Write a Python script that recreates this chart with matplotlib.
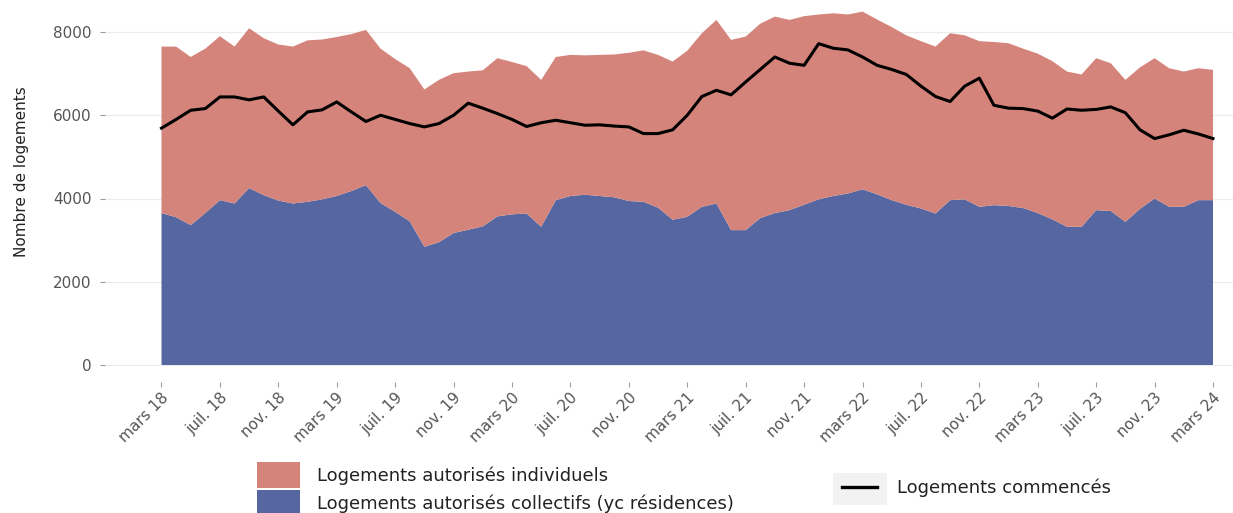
import matplotlib
matplotlib.use("Agg")
import matplotlib.pyplot as plt
from matplotlib.patches import Patch, Rectangle
from matplotlib.lines import Line2D
import matplotlib.transforms as mtransforms
import numpy as np

plt.rcParams['font.family'] = ['DejaVu Sans']

# Monthly series, mars 2018 -> mars 2024 (73 months)
collectifs = [3650, 3550, 3360, 3650, 3960, 3880, 4250, 4080, 3950, 3880,
              3920, 3980, 4060, 4180, 4320, 3890, 3680, 3450, 2840, 2950,
              3170, 3250, 3330, 3570, 3620, 3640, 3320, 3960, 4060, 4090,
              4060, 4030, 3940, 3920, 3780, 3490, 3560, 3800, 3880, 3240,
              3240, 3530, 3650, 3720, 3850, 3980, 4060, 4120, 4220, 4100,
              3960, 3850, 3760, 3640, 3960, 3980, 3800, 3840, 3820, 3770,
              3650, 3500, 3320, 3320, 3720, 3700, 3440, 3750, 4000, 3800,
              3800, 3960, 3960]
individuels = [4000, 4100, 4040, 3950, 3940, 3770, 3840, 3770, 3750, 3770,
               3880, 3840, 3820, 3770, 3730, 3710, 3670, 3680, 3780, 3900,
               3840, 3800, 3750, 3800, 3660, 3540, 3530, 3440, 3390, 3350,
               3390, 3430, 3560, 3640, 3670, 3800, 3990, 4170, 4410, 4570,
               4650, 4670, 4720, 4570, 4530, 4440, 4390, 4300, 4270, 4200,
               4160, 4070, 4020, 4010, 4010, 3940, 3980, 3920, 3910, 3830,
               3830, 3800, 3730, 3660, 3650, 3550, 3410, 3400, 3370, 3330,
               3250, 3170, 3130]
commences = [5690, 5900, 6120, 6160, 6440, 6440, 6370, 6440, 6100, 5770,
              6080, 6130, 6320, 6080, 5850, 6000, 5900, 5800, 5720, 5800,
              6000, 6290, 6170, 6040, 5900, 5730, 5820, 5880, 5820, 5760,
              5770, 5740, 5720, 5560, 5560, 5650, 6000, 6450, 6600, 6490,
              6800, 7100, 7400, 7250, 7200, 7720, 7610, 7570, 7400, 7200,
              7100, 6980, 6700, 6450, 6330, 6700, 6890, 6240, 6170, 6160,
              6100, 5930, 6150, 6120, 6140, 6200, 6060, 5650, 5440, 5530,
              5640, 5550, 5440]
tick_labels = ["mars 18", "juil. 18", "nov. 18", "mars 19", "juil. 19", "nov. 19",
               "mars 20", "juil. 20", "nov. 20", "mars 21", "juil. 21", "nov. 21",
               "mars 22", "juil. 22", "nov. 22", "mars 23", "juil. 23", "nov. 23",
               "mars 24"]
y_ticks = [0, 2000, 4000, 6000, 8000]

RED = '#D4847A'
BLUE = '#5566A0'

W, H = 1233, 513
fig = plt.figure(figsize=(W / 100, H / 100), dpi=100)
left_px, right_px, top_px, bottom_px = 105, 1233, 0, 382
ax = fig.add_axes([left_px / W, 1 - bottom_px / H,
                   (right_px - left_px) / W, (bottom_px - top_px) / H])

x = np.arange(len(collectifs))
ax.stackplot(x, collectifs, individuels, colors=[BLUE, RED], linewidth=0, zorder=2)
ax.plot(x, commences, color='black', linewidth=2.2, zorder=3)

x0_px, x1_px = 161.5, 1213
px_per_month = (x1_px - x0_px) / 72
ax.set_xlim(-(x0_px - left_px) / px_per_month, 72 + (right_px - x1_px) / px_per_month)
zero_px, top_tick_px = 365, 32
units_per_px = 8000 / (zero_px - top_tick_px)
ax.set_ylim(-(bottom_px - zero_px) * units_per_px, 8000 + top_tick_px * units_per_px)

ax.set_xticks(x[::4])
ax.set_xticklabels(tick_labels)
ax.set_yticks(y_ticks)
ax.set_yticklabels([str(v) for v in y_ticks])
ax.yaxis.grid(True, color='#EBEBEB', linewidth=0.8, zorder=0)
ax.xaxis.grid(False)
ax.set_axisbelow(True)
for s in ax.spines.values():
    s.set_visible(False)
ax.tick_params(axis='both', colors='#9A9A9A', length=3.5, width=0.8,
               labelcolor='#555555', labelsize=11)
ax.tick_params(axis='x', labelsize=11, pad=6)
ax.tick_params(axis='y', pad=6)
offset = mtransforms.ScaledTranslation(5 / 100, 0, fig.dpi_scale_trans)
for lab in ax.get_xticklabels():
    lab.set_rotation(45)
    lab.set_ha('right')
    lab.set_va('center')
    lab.set_rotation_mode('anchor')
    lab.set_transform(lab.get_transform() + offset)

fig.text(22 / W, 1 - 172 / H, "Nombre de logements", rotation=90,
         ha='center', va='center', fontsize=11, color='#222222')

# Legends
FS = 13
h1 = [Patch(facecolor=RED, edgecolor='none'),
      Patch(facecolor=BLUE, edgecolor='none')]
leg1 = fig.legend(h1, ["Logements autorisés individuels",
                       "Logements autorisés collectifs (yc résidences)"],
                  loc='upper left', bbox_to_anchor=(257 / W, 1 - 462 / H),
                  frameon=False, fontsize=FS, handlelength=2.38,
                  handleheight=1.85, labelspacing=0.11, handletextpad=0.94,
                  borderpad=0, borderaxespad=0, labelcolor='#222222')

fig.patches.append(Rectangle((833 / W, 1 - 505 / H), 54 / W, 32 / H,
                             transform=fig.transFigure, facecolor='#F2F2F2',
                             edgecolor='none', zorder=0))
h2 = [Line2D([0], [0], color='black', linewidth=2.4)]
leg2 = fig.legend(h2, ["Logements commencés"], loc='center left',
                  bbox_to_anchor=(842 / W, 1 - 488 / H), frameon=False,
                  fontsize=FS, handlelength=1.92, handletextpad=1.1,
                  borderpad=0, borderaxespad=0, labelcolor='#222222')

fig.savefig("out.png", dpi=100)
